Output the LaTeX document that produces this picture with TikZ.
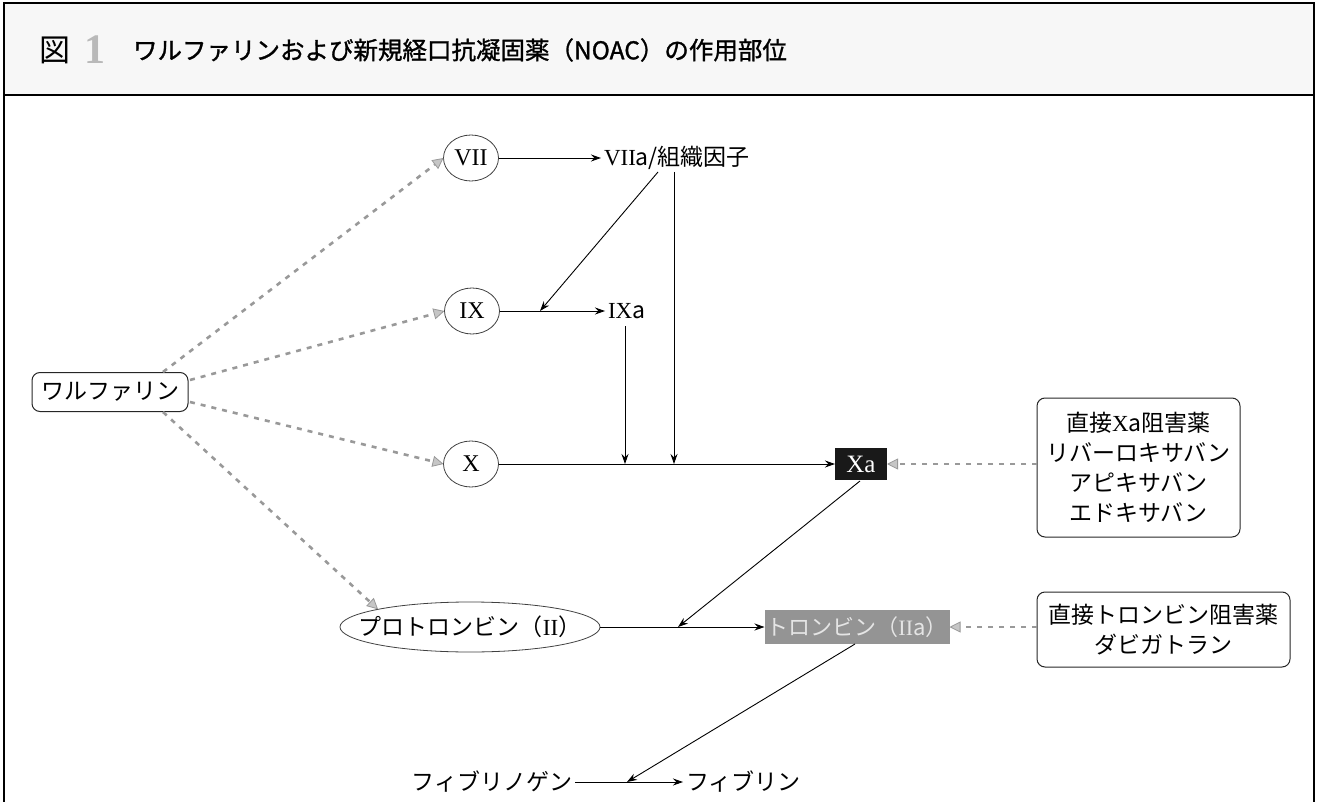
\documentclass[tikz,border=0pt]{standalone}
\usepackage{fontspec}
\setmainfont{Noto Sans CJK JP}
\newfontfamily\ser{Liberation Serif}
\newfontfamily\ttlfont{Noto Sans CJK JP}[FakeBold=1.2]
\usetikzlibrary{arrows.meta,shapes.geometric,calc}
\begin{document}
\begin{tikzpicture}[x=1pt,y=-1pt,
  every node/.style={inner sep=0pt,outer sep=0pt},
  txt/.style={inner sep=3pt,font=\fontsize{23}{28}\selectfont},
  ell/.style={draw=black!75,line width=0.8pt,ellipse,minimum width=55pt,minimum height=46pt,font=\ser\fontsize{24}{28}\selectfont},
  rbox/.style={draw=black!85,line width=1pt,rounded corners=8pt,align=center,font=\fontsize{23}{30}\selectfont},
  arr/.style={-{Stealth[length=10pt,width=7pt]},line width=0.9pt},
  gdash/.style={draw=gray!80,line width=2.6pt,dash pattern=on 5pt off 6pt,
    -{Triangle[length=11pt,width=11pt,fill=gray!45,color=gray!80,line width=0.8pt]}}
]
\useasboundingbox (0,0) rectangle (1317,802);
% frame and title band
\fill[black!3] (4,3) rectangle (1314,95);
\draw[line width=1.2pt] (4,802) -- (4,3) -- (1314,3) -- (1314,802);
\draw[line width=1.2pt] (4,95) -- (1314,95);
\node[font=\fontsize{31}{31}\selectfont] (fig) at (55,50) {図};
\node[font=\ser\bfseries\fontsize{42}{42}\selectfont,text=gray!55] (one) at (95,50) {1};
\node[anchor=west,font=\ttlfont\fontsize{24.5}{28}\selectfont] (title) at (133,50) {ワルファリンおよび新規経口抗凝固薬（NOAC）の作用部位};

% nodes
\node[draw=black!85,line width=1pt,rounded corners=8pt,minimum width=156pt,minimum height=39pt,font=\fontsize{23}{28}\selectfont] (wf) at (110,392) {ワルファリン};
\node[ell] (n7) at (471,158) {VII};
\node[ell] (n9) at (472,311) {IX};
\node[ell] (n10) at (471,464) {X};
\node[txt,anchor=west] (n7a) at (601,158) {{\ser VII}a/組織因子};
\node[txt,anchor=west] (n9a) at (605,311) {{\ser IX}a};
\node[fill=black!90,minimum width=52pt,minimum height=32pt,text=white,font=\ser\fontsize{25}{28}\selectfont] (xa) at (861,464) {Xa};
\node[draw=black!75,line width=0.8pt,ellipse,minimum width=260pt,minimum height=50pt] (pro) at (470,627) {};
\node[font=\fontsize{23}{28}\selectfont] (protxt) at (470,627) {プロトロンビン（{\ser II}）};
\node[fill=black!42,minimum width=185pt,minimum height=34pt,text=white!80!gray,font=\fontsize{22}{28}\selectfont] (thr) at (857,627) {トロンビン（{\ser II}a）};
\node[rbox,minimum width=203pt,minimum height=139pt] (rb1) at (1138.5,467.5) {直接{\ser X}a阻害薬\\リバーロキサバン\\アピキサバン\\エドキサバン};
\node[rbox,minimum width=253pt,minimum height=75pt] (rb2) at (1163.5,629.5) {直接トロンビン阻害薬\\ダビガトラン};
\node[txt,anchor=east] (fg) at (575,782) {フィブリノゲン};
\node[txt,anchor=west] (fb) at (683,782) {フィブリン};

% junction coordinates
\coordinate (s1) at (658,172);
\coordinate (s2) at (674,172);
\coordinate (s3) at (625,326);
\coordinate (j1) at (540,311);
\coordinate (j2) at (674,464);
\coordinate (j3) at (625,464);
\coordinate (j4) at (678,627);
\coordinate (j5) at (627,782);
\coordinate (x1) at (860,481);
\coordinate (t1) at (855,644);

% solid connectors
\draw[arr] (n7) -- (n7a);
\draw[arr] (n9) -- (n9a);
\draw[arr] (n10) -- (xa);
\draw[arr] (pro) -- (thr);
\draw[arr] (fg) -- (fb);
\draw[arr] (s1) -- (j1);
\draw[arr] (s2) -- (j2);
\draw[arr] (s3) -- (j3);
\draw[arr] (x1) -- (j4);
\draw[arr] (t1) -- (j5);

% dashed inhibitor / warfarin arrows
\coordinate (w1) at (163,372);
\coordinate (w2) at (190,380);
\coordinate (w3) at (190,402);
\coordinate (w4) at (163,412);
\draw[gdash] (w1) -- (n7.west);
\draw[gdash] (w2) -- (n9.west);
\draw[gdash] (w3) -- (n10.west);
\draw[gdash] (w4) -- (pro.north west);
\draw[gdash] (rb1.west |- xa) -- (xa.east);
\draw[gdash] (rb2.west |- thr) -- (thr.east);
\end{tikzpicture}
\end{document}
